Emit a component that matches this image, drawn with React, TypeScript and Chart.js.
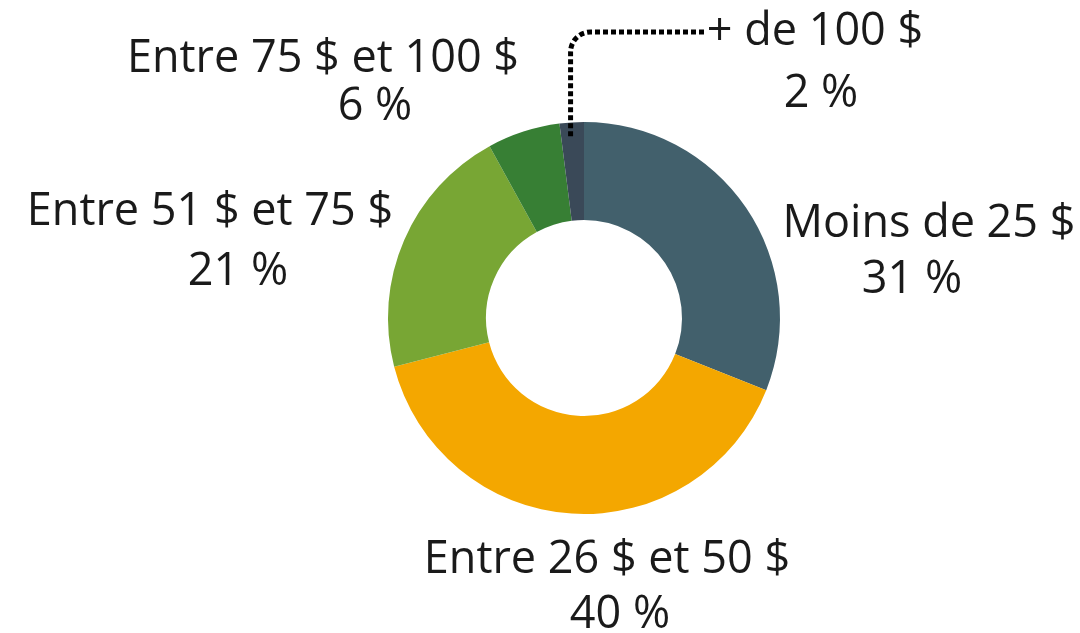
import React, { useEffect, useRef } from "react";
import { Chart, registerables } from "chart.js";

Chart.register(...registerables);

const categories = [
  "Moins de 25 $",
  "Entre 26 $ et 50 $",
  "Entre 51 $ et 75 $",
  "Entre 75 $ et 100 $",
  "+ de 100 $",
];
const shares = [31, 40, 21, 6, 2];
const shareLabels = ["31 %", "40 %", "21 %", "6 %", "2 %"];
const colors = ["#42606C", "#F4A700", "#78A634", "#377F34", "#3A4958"];

// label line placement relative to the doughnut centre (style config)
const labelOffsets = [
  [[345, -81], [328, -25]],
  [[23, 255], [36, 310]],
  [[-374, -93], [-346, -33]],
  [[-261, -246], [-209, -198]],
  [[231, -273], [237, -211]],
];

const FONT = '45px "Open Sans"';

const labelPlugin = {
  id: "donutLabels",
  afterDatasetsDraw(chart: any) {
    const ctx = chart.ctx;
    const meta = chart.getDatasetMeta(0);
    ctx.save();
    ctx.font = FONT;
    ctx.fillStyle = "#1a1a1a";
    ctx.textAlign = "center";
    ctx.textBaseline = "alphabetic";
    meta.data.forEach((arc: any, i: number) => {
      const cx = arc.x;
      const cy = arc.y;
      const off = labelOffsets[i];
      ctx.fillText(categories[i], cx + off[0][0], cy + off[0][1]);
      ctx.fillText(shareLabels[i], cx + off[1][0], cy + off[1][1]);
    });
    // leader line for the smallest slice
    const small = meta.data[4];
    if (small) {
      const mid = (small.startAngle + small.endAngle) / 2;
      const r0 = small.outerRadius - 14;
      const x0 = small.x + Math.cos(mid) * r0 - 2;
      const y0 = small.y + Math.sin(mid) * r0;
      const yH = small.y - 286;
      const xEnd = small.x + 123;
      const rad = 20;
      ctx.beginPath();
      ctx.setLineDash([5, 3]);
      ctx.lineWidth = 5;
      ctx.lineCap = "butt";
      ctx.strokeStyle = "#000";
      ctx.moveTo(x0, y0);
      ctx.lineTo(x0, yH + rad);
      ctx.arcTo(x0, yH, x0 + rad, yH, rad);
      ctx.lineTo(xEnd, yH);
      ctx.stroke();
    }
    ctx.restore();
  },
};

export default function App() {
  const ref = useRef<HTMLCanvasElement>(null);
  useEffect(() => {
    let chart: Chart | null = null;
    let cancelled = false;
    const make = () => {
      if (cancelled || !ref.current) return;
      chart = new Chart(ref.current, {
        type: "doughnut",
        data: {
          labels: categories,
          datasets: [
            {
              data: shares,
              backgroundColor: colors,
              borderWidth: 0,
            },
          ],
        },
        options: {
          animation: false,
          responsive: true,
          maintainAspectRatio: false,
          cutout: "50%",
          layout: { padding: { left: 388, right: 300, top: 122, bottom: 119 } },
          plugins: {
            legend: { display: false },
            tooltip: { enabled: false },
          },
        },
        plugins: [labelPlugin],
      });
    };
    const fonts: any = (document as any).fonts;
    if (fonts && fonts.load) {
      fonts.load(FONT).then(make, make);
    } else {
      make();
    }
    return () => {
      cancelled = true;
      if (chart) chart.destroy();
    };
  }, []);
  return (
    <div
      style={{
        position: "absolute",
        left: 0,
        top: 0,
        width: 1080,
        height: 633,
        background: "#fff",
      }}
    >
      <canvas ref={ref} />
    </div>
  );
}
